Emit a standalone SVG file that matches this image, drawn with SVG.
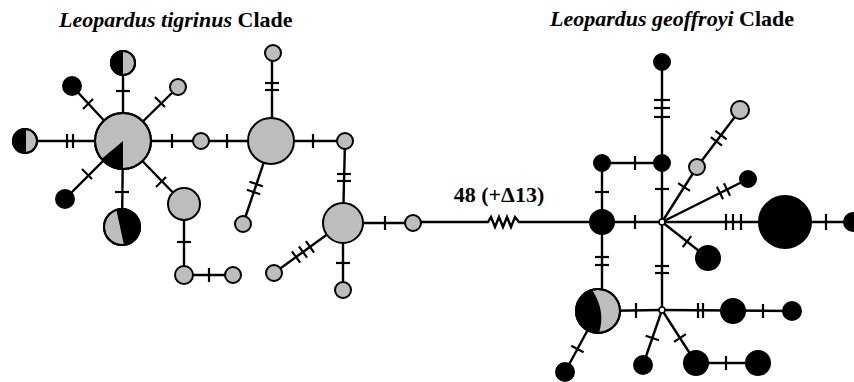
<svg xmlns="http://www.w3.org/2000/svg" width="854" height="382" viewBox="0 0 854 382">
<style>
.e{stroke:#000;stroke-width:2.4;fill:none}
.t{stroke:#000;stroke-width:2.2;fill:none}
.g{fill:#bdbdbd;stroke:#000;stroke-width:2}
.b{fill:#000;stroke:#000;stroke-width:2}
.w{fill:#fff;stroke:#000;stroke-width:1.6}
.k{fill:#000}
.o{fill:none;stroke:#000;stroke-width:2}
.ttl{font-family:"Liberation Serif","Times New Roman",serif;font-weight:bold;font-size:22px;fill:#000}
.lbl{font-family:"Liberation Serif","Times New Roman",serif;font-weight:bold;font-size:22px;fill:#000}
</style>
<rect width="854" height="382" fill="#fff"/>
<text class="ttl" x="59" y="27"><tspan font-style="italic">Leopardus tigrinus</tspan> Clade</text>
<text class="ttl" x="550" y="26"><tspan font-style="italic">Leopardus geoffroyi</tspan> Clade</text>
<text class="lbl" x="499" y="202" text-anchor="middle">48 (+Δ13)</text>
<g id="connectors">
<line class="e" x1="123" y1="141" x2="123" y2="63"/>
<line class="t" x1="116" y1="91" x2="130" y2="91"/>
<line class="e" x1="123" y1="141" x2="72" y2="86"/>
<line class="t" x1="83" y1="109" x2="93" y2="99"/>
<line class="e" x1="123" y1="141" x2="178" y2="87"/>
<line class="t" x1="155" y1="97" x2="165" y2="107"/>
<line class="e" x1="123" y1="141" x2="25" y2="141"/>
<line class="t" x1="67" y1="134" x2="67" y2="148"/>
<line class="t" x1="73" y1="134" x2="73" y2="148"/>
<line class="e" x1="123" y1="141" x2="271" y2="141"/>
<line class="t" x1="172" y1="134" x2="172" y2="148"/>
<line class="t" x1="227" y1="134" x2="227" y2="148"/>
<line class="e" x1="123" y1="141" x2="65" y2="199"/>
<line class="t" x1="82" y1="169" x2="92" y2="179"/>
<line class="e" x1="123" y1="141" x2="122" y2="227"/>
<line class="t" x1="115" y1="192" x2="129" y2="192"/>
<line class="e" x1="123" y1="141" x2="184" y2="204"/>
<line class="t" x1="156" y1="187" x2="166" y2="177"/>
<line class="e" x1="184" y1="204" x2="184" y2="275"/>
<line class="t" x1="177" y1="242" x2="191" y2="242"/>
<line class="e" x1="184" y1="275" x2="233" y2="275"/>
<line class="t" x1="209" y1="268" x2="209" y2="282"/>
<line class="e" x1="272" y1="141" x2="272" y2="53"/>
<line class="t" x1="265" y1="83" x2="279" y2="83"/>
<line class="t" x1="265" y1="90" x2="279" y2="90"/>
<line class="e" x1="271" y1="141" x2="345" y2="141"/>
<line class="t" x1="313" y1="134" x2="313" y2="148"/>
<line class="e" x1="271" y1="141" x2="243" y2="224"/>
<line class="t" x1="249.5" y1="181.8" x2="262.8" y2="186.2"/>
<line class="t" x1="246.9" y1="189.8" x2="260.2" y2="194.2"/>
<line class="e" x1="345" y1="141" x2="343" y2="223"/>
<line class="t" x1="337" y1="174" x2="351" y2="174"/>
<line class="t" x1="337" y1="181" x2="351" y2="181"/>
<line class="e" x1="343" y1="223" x2="413" y2="223"/>
<line class="t" x1="385" y1="216" x2="385" y2="230"/>
<line class="e" x1="343" y1="223" x2="274" y2="273"/>
<line class="t" x1="305.9" y1="241.2" x2="314.1" y2="252.6"/>
<line class="t" x1="298.9" y1="246.3" x2="307.1" y2="257.7"/>
<line class="t" x1="291.9" y1="251.3" x2="300.1" y2="262.7"/>
<line class="e" x1="343" y1="223" x2="343" y2="290"/>
<line class="t" x1="336" y1="263" x2="350" y2="263"/>
<path class="e" d="M413,222 L488,222 L491,217 L495,227 L499,217 L503,227 L507,217 L511,227 L515,217 L519,222 L602,222"/>
<line class="e" x1="602" y1="222" x2="662" y2="222"/>
<line class="t" x1="635" y1="215" x2="635" y2="229"/>
<line class="e" x1="602" y1="222" x2="602" y2="163"/>
<line class="t" x1="595" y1="192" x2="609" y2="192"/>
<line class="e" x1="602" y1="163" x2="662" y2="163"/>
<line class="t" x1="635" y1="156" x2="635" y2="170"/>
<line class="e" x1="662" y1="163" x2="662" y2="62"/>
<line class="t" x1="654" y1="100" x2="670" y2="100"/>
<line class="t" x1="654" y1="108" x2="670" y2="108"/>
<line class="t" x1="654" y1="117" x2="670" y2="117"/>
<line class="e" x1="662" y1="222" x2="662" y2="163"/>
<line class="t" x1="655" y1="189" x2="669" y2="189"/>
<line class="e" x1="662" y1="222" x2="697" y2="167"/>
<line class="t" x1="678.1" y1="183.2" x2="689.9" y2="190.8"/>
<line class="e" x1="697" y1="167" x2="740" y2="110"/>
<line class="t" x1="710.8" y1="137.2" x2="722" y2="145.6"/>
<line class="t" x1="715.5" y1="130.9" x2="726.7" y2="139.3"/>
<line class="e" x1="662" y1="222" x2="748" y2="179"/>
<line class="t" x1="716.9" y1="186.7" x2="723.1" y2="199.3"/>
<line class="t" x1="723.9" y1="183.2" x2="730.1" y2="195.8"/>
<line class="e" x1="662" y1="222" x2="853" y2="222"/>
<line class="t" x1="726" y1="214" x2="726" y2="230"/>
<line class="t" x1="733" y1="214" x2="733" y2="230"/>
<line class="t" x1="741" y1="214" x2="741" y2="230"/>
<line class="t" x1="826" y1="214" x2="826" y2="230"/>
<line class="e" x1="662" y1="222" x2="708" y2="258"/>
<line class="t" x1="682.7" y1="247.1" x2="691.3" y2="236.1"/>
<line class="e" x1="662" y1="222" x2="662" y2="310"/>
<line class="t" x1="655" y1="266" x2="669" y2="266"/>
<line class="t" x1="655" y1="273" x2="669" y2="273"/>
<line class="e" x1="602" y1="222" x2="602" y2="300"/>
<line class="t" x1="595" y1="257" x2="609" y2="257"/>
<line class="t" x1="595" y1="265" x2="609" y2="265"/>
<line class="e" x1="598" y1="311" x2="662" y2="310"/>
<line class="t" x1="636" y1="303" x2="636" y2="318"/>
<line class="e" x1="598" y1="311" x2="565" y2="372"/>
<line class="t" x1="571.2" y1="345.7" x2="583.6" y2="352.3"/>
<line class="e" x1="662" y1="310" x2="792" y2="311"/>
<line class="t" x1="698" y1="303" x2="698" y2="318"/>
<line class="t" x1="703" y1="303" x2="703" y2="318"/>
<line class="t" x1="763" y1="304" x2="763" y2="318"/>
<line class="e" x1="662" y1="310" x2="643" y2="365"/>
<line class="t" x1="645.7" y1="335.7" x2="658.9" y2="340.3"/>
<line class="e" x1="662" y1="310" x2="696" y2="363"/>
<line class="t" x1="674.1" y1="341.8" x2="685.9" y2="334.2"/>
<line class="e" x1="696" y1="363" x2="758" y2="363"/>
<line class="t" x1="726" y1="356" x2="726" y2="370"/>
</g>
<g id="H1"><circle class="g" cx="123" cy="141" r="28"/><path class="k" d="M123,141 L123,169 A28,28 0 0 1 101.55,159 Z"/><circle class="o" cx="123" cy="141" r="28"/></g>
<g id="L_top"><circle class="g" cx="123" cy="63" r="12"/><path class="k" d="M123,51 A12,12 0 0 0 123,75 Z"/><circle class="o" cx="123" cy="63" r="12"/></g>
<g id="L_ul"><circle class="b" cx="72" cy="86" r="9"/></g>
<g id="L_ur"><circle class="g" cx="178" cy="87" r="8"/></g>
<g id="L_left"><circle class="g" cx="25" cy="141" r="12"/><path class="k" d="M26,129 A12,12 0 0 0 26,153 Z"/><circle class="o" cx="25" cy="141" r="12"/></g>
<g id="L_right"><circle class="g" cx="201" cy="141" r="8"/></g>
<g id="L_ll"><circle class="b" cx="65" cy="199" r="9"/></g>
<g id="L_bottom"><circle class="g" cx="122" cy="227" r="18"/><path class="k" d="M116.4,209.9 L124,244.9 A18,18 0 1 0 116.4,209.9 Z"/><circle class="o" cx="122" cy="227" r="18"/></g>
<g id="L_lr"><circle class="g" cx="184" cy="204" r="16"/></g>
<g id="L_lr2"><circle class="g" cx="184" cy="275" r="9"/></g>
<g id="L_lr3"><circle class="g" cx="233" cy="275" r="8"/></g>
<g id="H2"><circle class="g" cx="271" cy="141" r="23"/></g>
<g id="H2_top"><circle class="g" cx="273" cy="53" r="8"/></g>
<g id="H2_ll"><circle class="g" cx="243" cy="224" r="8"/></g>
<g id="H2_right"><circle class="g" cx="345" cy="141" r="8"/></g>
<g id="H3"><circle class="g" cx="343" cy="223" r="20"/></g>
<g id="H3_right"><circle class="g" cx="413" cy="223" r="8"/></g>
<g id="H3_ll"><circle class="g" cx="274" cy="273" r="8"/></g>
<g id="H3_bottom"><circle class="g" cx="343" cy="290" r="8"/></g>
<g id="R1"><circle class="b" cx="602" cy="222" r="12"/></g>
<g id="R_up"><circle class="b" cx="602" cy="163" r="8"/></g>
<g id="R_up2"><circle class="b" cx="662" cy="163" r="8"/></g>
<g id="R_top"><circle class="b" cx="662" cy="62" r="8"/></g>
<g id="R_gray1"><circle class="g" cx="697" cy="167" r="8"/></g>
<g id="R_gray2"><circle class="g" cx="740" cy="110" r="9"/></g>
<g id="R_b179"><circle class="b" cx="748" cy="179" r="8"/></g>
<g id="R_big"><circle class="b" cx="785" cy="222" r="26"/></g>
<g id="R_far"><circle class="b" cx="853" cy="222" r="9"/></g>
<g id="R_b258"><circle class="b" cx="708" cy="258" r="12"/></g>
<g id="R_half"><circle class="g" cx="598" cy="311" r="22"/><path class="k" d="M592,289.8 Q606,311 599,333 A22,22 0 0 1 592,289.8 Z"/><circle class="o" cx="598" cy="311" r="22"/></g>
<g id="R_ll"><circle class="b" cx="565" cy="372" r="9"/></g>
<g id="R_b311"><circle class="b" cx="733" cy="311" r="12"/></g>
<g id="R_b311b"><circle class="b" cx="792" cy="311" r="9"/></g>
<g id="R_b365"><circle class="b" cx="643" cy="365" r="9"/></g>
<g id="R_b363"><circle class="b" cx="696" cy="363" r="12"/></g>
<g id="R_b363b"><circle class="b" cx="758" cy="363" r="12"/></g>
<g id="M1"><circle class="w" cx="662" cy="222" r="3"/></g>
<g id="M2"><circle class="w" cx="662" cy="310" r="3"/></g>
</svg>
